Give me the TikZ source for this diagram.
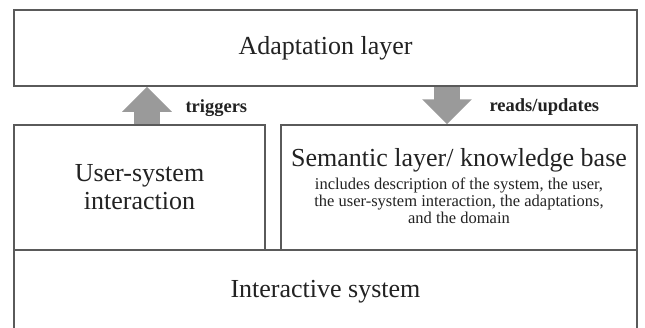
\documentclass[tikz,border=0pt]{standalone}
\usepackage{fontspec}
\setmainfont{Liberation Serif}
\usetikzlibrary{arrows.meta}
\definecolor{boxline}{HTML}{5A5A5A}
\definecolor{arrowgray}{HTML}{9A9A9A}
\definecolor{txt}{HTML}{222222}
\newcommand{\bigsz}{\fontsize{26}{28}\selectfont}
\newcommand{\smallsz}{\fontsize{16.5}{17}\selectfont}
\tikzset{
  layerbox/.style={draw=boxline, line width=1.5pt, inner sep=0pt, text=txt},
  bigtext/.style={font=\bigsz, align=center},
  smalltext/.style={font=\smallsz, align=center, inner sep=0pt, text=txt},
  arrowlabel/.style={font=\bfseries\fontsize{18.5}{20}\selectfont, text=txt, anchor=west},
  blockarrow/.style={draw=arrowgray, line width=26pt, line cap=butt,
    -{Triangle[width=48pt,length=25pt,fill=arrowgray,color=arrowgray]}}
}
\begin{document}
\begin{tikzpicture}[x=1pt,y=-1pt]
\useasboundingbox (0,0) rectangle (645,327);
\fill[white] (0,0) rectangle (645,327);
\clip (0,0) rectangle (645,327);
\node[layerbox, bigtext, minimum width=623pt, minimum height=76pt] (adapt) at (325.5,48) {Adaptation layer};
\node[layerbox, bigtext, minimum width=251pt, minimum height=125pt] (user) at (139.5,187.5) {User-system\\interaction};
\node[layerbox, minimum width=356pt, minimum height=125pt] (sem) at (459,187.5) {};
\node[bigtext, inner sep=0pt, text=txt] (semtitle) at (459,160) {Semantic layer/ knowledge base};
\node[smalltext] (semdesc) at (459,200.5) {includes description of the system, the user,\\
  the user-system interaction, the adaptations,\\
  and the domain};
\node[layerbox, bigtext, minimum width=623pt, minimum height=84pt] (inter) at (325.5,292) {Interactive system};
\draw[blockarrow] ([xshift=7.5pt]user.north) -- ([xshift=-178.5pt]adapt.south);
\draw[blockarrow] ([xshift=121.5pt]adapt.south) -- ([xshift=-12pt]sem.north);
\node[arrowlabel] (trig) at (182,108) {triggers};
\node[arrowlabel] (rdup) at (486,107) {reads/updates};
\end{tikzpicture}
\end{document}
